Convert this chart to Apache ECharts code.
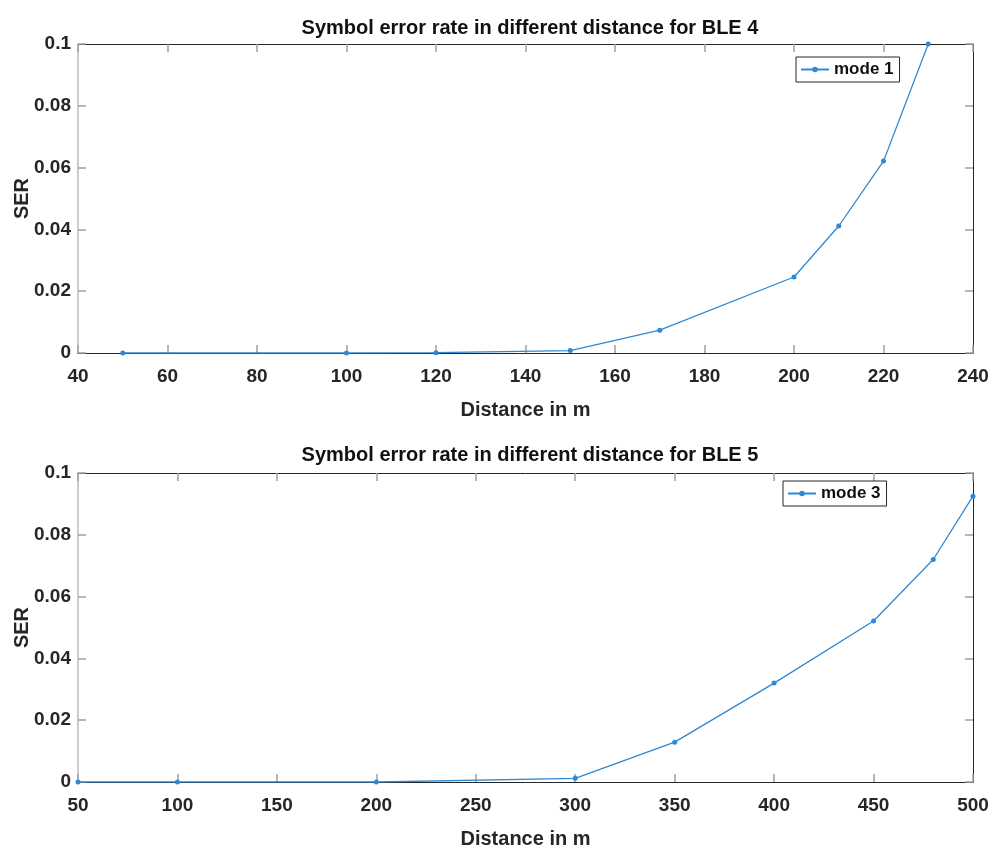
<!DOCTYPE html>
<html>
<head>
<meta charset="utf-8">
<script src="https://cdn.jsdelivr.net/npm/echarts@6/dist/echarts.min.js"></script>
<style>html,body{margin:0;padding:0;background:#fff;}#c{width:989px;height:850px;}</style>
</head>
<body>
<div id="c"></div>
<script>
// Top chart (BLE 4, mode 1)
const dist1 = [50, 100, 120, 150, 170, 200, 210, 220, 230];
const ser1 = [0, 0, 0.0001, 0.0008, 0.0074, 0.0246, 0.0411, 0.0621, 0.1];
// Bottom chart (BLE 5, mode 3)
const dist2 = [50, 100, 200, 300, 350, 400, 450, 480, 500];
const ser2 = [0, 0, 0, 0.0012, 0.0129, 0.032, 0.0521, 0.072, 0.0925];
const title1 = 'Symbol error rate in different distance for BLE 4';
const title2 = 'Symbol error rate in different distance for BLE 5';
const xName = 'Distance in m';
const yName = 'SER';
const legend1 = 'mode 1';
const legend2 = 'mode 3';

const FONT = '"Liberation Sans Narrow", "Liberation Sans", Arial, sans-serif';
const LINE = '#2f88d4';
const AX = '#262626';
const TICK = '#a0a0a0';

function xAx(gi, min, max, itv, pos) {
  const main = pos === 'bottom';
  return {
    type: 'value', gridIndex: gi, position: pos, min: min, max: max, interval: itv,
    name: main ? xName : '', nameLocation: 'middle', nameGap: 47, nameMoveOverlap: false,
    nameTextStyle: {fontFamily: FONT, fontWeight: 'bold', fontSize: 20, color: '#262626'},
    axisLine: {show: true, onZero: false, lineStyle: {color: AX, width: 1}},
    axisTick: {show: true, inside: true, length: 8, lineStyle: {color: TICK, width: 1.5}},
    axisLabel: {show: main, margin: 14, fontFamily: FONT, fontWeight: 'bold', fontSize: 19, color: '#262626'},
    splitLine: {show: false}
  };
}
function yAx(gi, pos) {
  const main = pos === 'left';
  return {
    type: 'value', gridIndex: gi, position: pos, min: 0, max: 0.1, interval: 0.02,
    name: main ? yName : '', nameLocation: 'middle', nameGap: 46, nameMoveOverlap: false,
    nameTextStyle: {fontFamily: FONT, fontWeight: 'bold', fontSize: 20, color: '#262626'},
    axisLine: {show: true, lineStyle: {color: main ? '#bdbdbd' : AX, width: main ? 1.5 : 1}},
    axisTick: {show: true, inside: true, length: 8, lineStyle: {color: TICK, width: 1.5}},
    axisLabel: {show: main, margin: 7, fontFamily: FONT, fontWeight: 'bold', fontSize: 19, color: '#262626'},
    splitLine: {show: false}
  };
}
function legendCfg(name, left, top) {
  return {
    data: [name], left: left, top: top, orient: 'vertical',
    backgroundColor: '#fff', borderColor: '#262626', borderWidth: 1, borderRadius: 0,
    padding: [4, 6, 4, 4], itemWidth: 28, itemHeight: 7, itemGap: 4,
    textStyle: {fontFamily: FONT, fontWeight: 'bold', fontSize: 17, color: '#111'}
  };
}
function seriesCfg(name, xs, ys, gi) {
  return {
    type: 'line', name: name, xAxisIndex: gi * 2, yAxisIndex: gi * 2,
    data: xs.map((x, i) => [x, ys[i]]),
    symbol: 'circle', symbolSize: 5, showSymbol: true,
    lineStyle: {color: LINE, width: 1.3}, itemStyle: {color: LINE},
    animation: false
  };
}

const chart = echarts.init(document.getElementById('c'), null, {renderer: 'canvas'});
chart.setOption({
  backgroundColor: '#fff',
  animation: false,
  title: [
    {text: title1, left: 525, top: 13, textAlign: 'center', textStyle: {fontFamily: FONT, fontWeight: 'bold', fontSize: 20, color: '#111'}},
    {text: title2, left: 525, top: 440, textAlign: 'center', textStyle: {fontFamily: FONT, fontWeight: 'bold', fontSize: 20, color: '#111'}}
  ],
  legend: [legendCfg(legend1, 796, 57), legendCfg(legend2, 783, 481)],
  grid: [
    {left: 78, top: 44, width: 895, height: 309, containLabel: false, outerBoundsMode: 'none'},
    {left: 78, top: 473, width: 895, height: 309, containLabel: false, outerBoundsMode: 'none'}
  ],
  xAxis: [
    xAx(0, 40, 240, 20, 'bottom'), xAx(0, 40, 240, 20, 'top'),
    xAx(1, 50, 500, 50, 'bottom'), xAx(1, 50, 500, 50, 'top')
  ],
  yAxis: [
    yAx(0, 'left'), yAx(0, 'right'),
    yAx(1, 'left'), yAx(1, 'right')
  ],
  series: [seriesCfg(legend1, dist1, ser1, 0), seriesCfg(legend2, dist2, ser2, 1)]
});
</script>
</body>
</html>
